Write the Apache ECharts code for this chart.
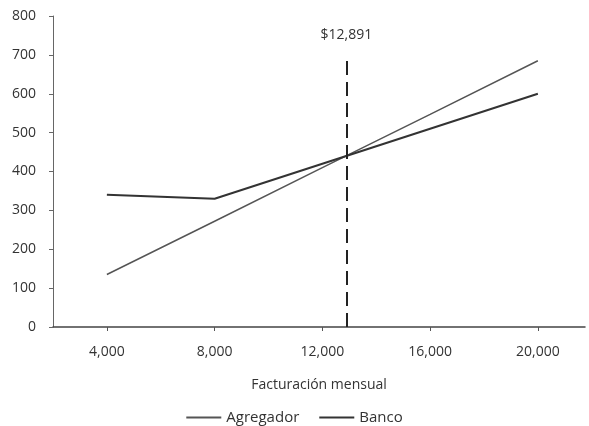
<!DOCTYPE html>
<html><head><meta charset="utf-8">
<script src="https://cdn.jsdelivr.net/npm/echarts@6/dist/echarts.min.js"></script>
<style>html,body{margin:0;padding:0;background:#fff}#c{width:589px;height:426px}</style>
</head><body><div id="c"></div>
<script>
const xValues = [4000, 8000, 12000, 16000, 20000];
const agregador = [135, 272, 410, 547, 685];
const banco = [340, 330, 420, 510, 600];
const breakEven = 12891;
const breakEvenLabel = '$12,891';
const xTicks = [4000, 8000, 12000, 16000, 20000];
const yTicks = [0, 100, 200, 300, 400, 500, 600, 700, 800];

const font = '"Open Sans", Lato, sans-serif';
const chart = echarts.init(document.getElementById('c'));
chart.setOption({
  animation: false,
  grid: {left: 53, right: 4, top: 16, bottom: 99},
  legend: {
    top: 405, left: 'center', itemGap: 20, itemWidth: 35, itemHeight: 2, icon: 'rect',
    textStyle: {fontFamily: font, fontSize: 15, color: '#333'},
    data: ['Agregador', 'Banco']
  },
  xAxis: {
    type: 'value', min: 2000, max: 21750, interval: 2000,
    name: 'Facturación mensual', nameLocation: 'middle', nameGap: 51,
    nameTextStyle: {fontFamily: font, fontSize: 14, color: '#333'},
    axisLine: {lineStyle: {color: '#444', width: 1.5}},
    axisTick: {customValues: xTicks, length: 4, lineStyle: {color: '#555'}},
    axisLabel: {customValues: xTicks, fontFamily: font, fontSize: 14, color: '#333', margin: 18,
      formatter: v => v.toLocaleString('en-US')},
    splitLine: {show: false}
  },
  yAxis: {
    type: 'value', min: 0, max: 800, interval: 100,
    axisLine: {show: true, lineStyle: {color: '#666'}},
    axisTick: {show: true, length: 4, lineStyle: {color: '#666'}},
    axisLabel: {fontFamily: font, fontSize: 14, color: '#333', margin: 17},
    splitLine: {show: false}
  },
  series: [
    {name: 'Agregador', type: 'line', data: xValues.map((x, i) => [x, agregador[i]]),
     showSymbol: false, lineStyle: {color: '#555', width: 1.5}, itemStyle: {color: '#555'}},
    {name: 'Banco', type: 'line', data: xValues.map((x, i) => [x, banco[i]]),
     showSymbol: false, lineStyle: {color: '#333', width: 2}, itemStyle: {color: '#333'},
     markLine: {
       silent: true, symbol: 'none',
       lineStyle: {type: [14, 7], color: '#222', width: 2},
       label: {show: true, position: 'end', distance: 14, formatter: breakEvenLabel,
         fontFamily: font, fontSize: 14, color: '#333'},
       data: [[{coord: [breakEven, 0]}, {coord: [breakEven, 697]}]]
     }}
  ]
});
</script></body></html>
